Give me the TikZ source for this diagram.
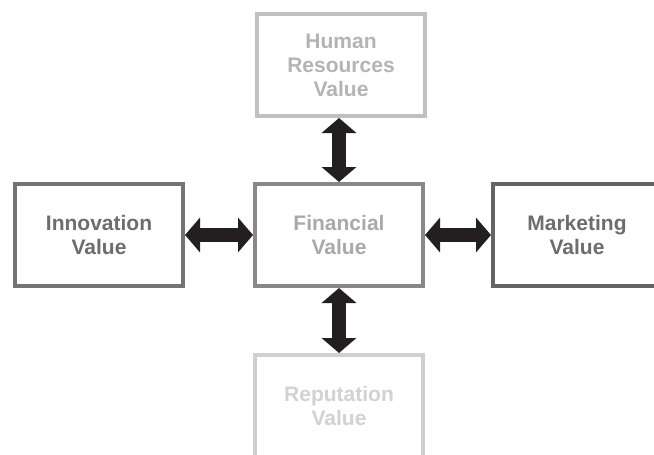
\documentclass[tikz,border=0pt]{standalone}
\usepackage{fontspec}
\setmainfont{Liberation Sans}
\usetikzlibrary{arrows.meta}
\definecolor{hrline}{HTML}{C0C0C0}
\definecolor{hrtext}{HTML}{B4B4B4}
\definecolor{finline}{HTML}{888888}
\definecolor{fintext}{HTML}{A9A9A9}
\definecolor{innline}{HTML}{747474}
\definecolor{darktext}{HTML}{6D6D6D}
\definecolor{mktline}{HTML}{646464}
\definecolor{repline}{HTML}{D0D0D0}
\definecolor{reptext}{HTML}{D2D2D2}
\definecolor{arrowfill}{HTML}{231F20}
\tikzset{
  valuebox/.style={draw, line width=4pt, fill=white, minimum width=168pt,
    minimum height=102pt, align=center, inner sep=0pt,
    font=\fontsize{21}{24}\selectfont\bfseries},
  biarrow/.style={draw=arrowfill, line width=14pt,
    {Triangle[width=34pt,length=15pt]}-{Triangle[width=34pt,length=15pt]}}
}
\begin{document}
\begin{tikzpicture}[x=1pt,y=-1pt]
  \clip (0,0) rectangle (654,455);
  \fill[white] (0,0) rectangle (654,455);
  % the five value boxes
  \node[valuebox, draw=hrline, text=hrtext] (hr) at (341,65) {Human\\Resources\\Value};
  \node[valuebox, draw=finline, text=fintext] (fin) at (339,235) {Financial\\Value};
  \node[valuebox, draw=innline, text=darktext] (inn) at (99,235) {Innovation\\Value};
  \node[valuebox, draw=mktline, text=darktext] (mkt) at (577,235) {Marketing\\Value};
  \node[valuebox, draw=repline, text=reptext] (rep) at (339,406) {Reputation\\Value};
  % two-way links to the financial value
  \draw[biarrow] (hr.south -| fin.north) -- (fin.north);
  \draw[biarrow] (inn.east) -- (fin.west);
  \draw[biarrow] (fin.east) -- (mkt.west);
  \draw[biarrow] (fin.south) -- (rep.north);
\end{tikzpicture}
\end{document}
